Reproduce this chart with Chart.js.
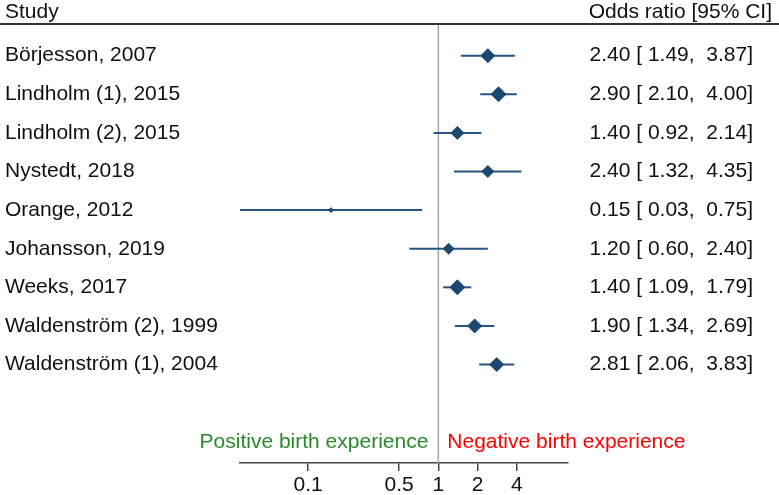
<!DOCTYPE html>
<html>
<head>
<meta charset="utf-8">
<script src="https://cdn.jsdelivr.net/npm/chart.js@4"></script>
<style>
  html, body { margin: 0; padding: 0; background: #fff; }
  #wrap { width: 779px; height: 495px; }
</style>
</head>
<body>
<div id="wrap"><canvas id="forest"></canvas></div>
<script>
// Forest plot data
const studies = ['Börjesson, 2007', 'Lindholm (1), 2015', 'Lindholm (2), 2015', 'Nystedt, 2018',
                 'Orange, 2012', 'Johansson, 2019', 'Weeks, 2017', 'Waldenström (2), 1999', 'Waldenström (1), 2004'];
const oddsRatio = [2.40, 2.90, 1.40, 2.40, 0.15, 1.20, 1.40, 1.90, 2.81];
const ciLower   = [1.49, 2.10, 0.92, 1.32, 0.03, 0.60, 1.09, 1.34, 2.06];
const ciUpper   = [3.87, 4.00, 2.14, 4.35, 0.75, 2.40, 1.79, 2.69, 3.83];
const weights   = [13.1, 15.0, 11.3, 9.7, 1.6, 8.0, 15.0, 13.1, 13.1];   // approx. % weight
const xTicks    = [0.1, 0.5, 1, 2, 4];

const FONT = '"Liberation Sans", Arial, sans-serif';
const LINE_COLOR = '#285482';
const DIAMOND_COLOR = '#1c4870';
const Y_MIN = -0.82, Y_MAX = 10.55;

Chart.defaults.font.family = FONT;
Chart.defaults.font.size = 21;
Chart.defaults.color = '#111';

const ciDatasets = studies.map((s, i) => ({
    type: 'scatter',
    label: s,
    data: [{ x: ciLower[i], y: i }, { x: ciUpper[i], y: i }],
    showLine: true,
    borderColor: LINE_COLOR,
    borderWidth: 2,
    pointRadius: 0,
    order: 2,
}));

const fmt = v => v.toFixed(2);

// Text columns, header rule and direction labels
const annotations = {
    id: 'forestText',
    afterDraw(chart) {
        const { ctx, scales: { x, y } } = chart;
        ctx.save();
        ctx.font = '21px ' + FONT;
        ctx.textBaseline = 'middle';
        ctx.fillStyle = '#111';

        // header
        ctx.textAlign = 'left';
        ctx.fillText('Study', 5, 12);
        ctx.textAlign = 'right';
        ctx.fillText('Odds ratio [95% CI]', 772, 12);
        ctx.strokeStyle = '#333';
        ctx.lineWidth = 2;
        ctx.beginPath();
        ctx.moveTo(0, 24);
        ctx.lineTo(779, 24);
        ctx.stroke();

        studies.forEach((s, i) => {
            const py = y.getPixelForValue(i);
            ctx.textAlign = 'left';
            ctx.fillText(s, 5, py);
            ctx.textAlign = 'right';
            ctx.fillText(`${fmt(oddsRatio[i])} [ ${fmt(ciLower[i])},  ${fmt(ciUpper[i])}]`, 753, py);
        });

        const refX = x.getPixelForValue(1);
        ctx.textAlign = 'right';
        ctx.fillStyle = '#2a8a2a';
        ctx.fillText('Positive birth experience', refX - 10, 442);
        ctx.textAlign = 'left';
        ctx.fillStyle = '#ff0000';
        ctx.fillText('Negative birth experience', refX + 9, 442);
        ctx.restore();
    }
};

new Chart(document.getElementById('forest'), {
    type: 'scatter',
    data: {
        datasets: [
            {
                label: 'ref',
                data: [{ x: 1, y: Y_MIN }, { x: 1, y: Y_MAX }],
                showLine: true,
                borderColor: '#a6a6a6',
                borderWidth: 1.5,
                pointRadius: 0,
                order: 3,
            },
            ...ciDatasets,
            {
                label: 'OR',
                data: oddsRatio.map((v, i) => ({ x: v, y: i })),
                pointStyle: 'rectRot',
                pointRadius: weights.map(w => 1.93 * Math.sqrt(w)),
                backgroundColor: DIAMOND_COLOR,
                borderColor: DIAMOND_COLOR,
                borderWidth: 1,
                order: 1,
            }
        ]
    },
    options: {
        responsive: true,
        maintainAspectRatio: false,
        animation: false,
        layout: { padding: { left: 240, right: 211, top: 24, bottom: 0 } },
        plugins: { legend: { display: false }, tooltip: { enabled: false } },
        scales: {
            x: {
                type: 'logarithmic',
                min: 0.03,
                max: 9.9,
                afterBuildTicks: axis => { axis.ticks = xTicks.map(v => ({ value: v })); },
                afterFit: s => { s.height = 32; },
                ticks: { callback: v => String(v), padding: 2, color: '#111', font: { size: 21 } },
                grid: { drawOnChartArea: false, drawTicks: true, tickLength: 8, color: '#444', lineWidth: 1.5 },
                border: { display: true, color: '#444', width: 1.5 },
            },
            y: {
                type: 'linear',
                reverse: true,
                min: Y_MIN,
                max: Y_MAX,
                display: false,
            }
        }
    },
    plugins: [annotations]
});
</script>
</body>
</html>
